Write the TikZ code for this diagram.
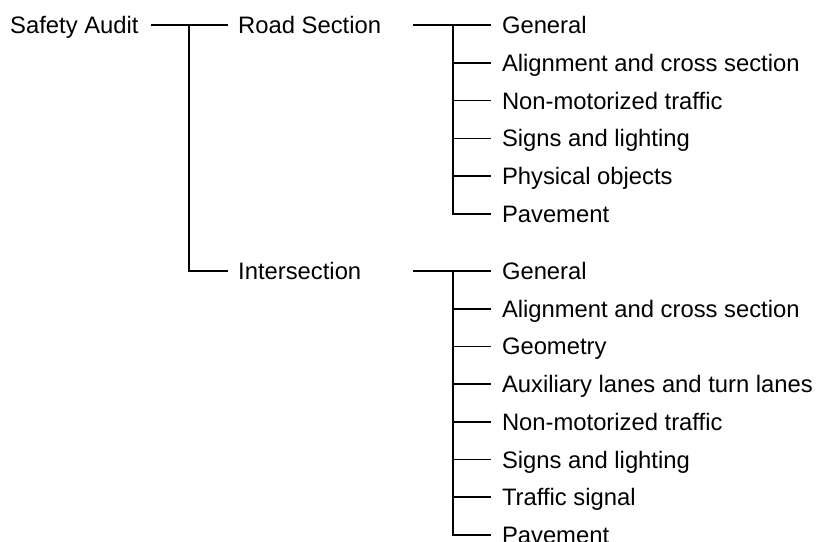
\documentclass[tikz,border=0pt]{standalone}
\usepackage{fontspec}
\setmainfont{Liberation Sans}
\begin{document}
\begin{tikzpicture}[x=1bp,y=-1bp,
  lbl/.style={anchor=west, inner sep=0pt, text height=17bp, text depth=0pt,
              font=\fontsize{23.8bp}{28bp}\selectfont},
  leaf/.style={lbl, outer xsep=11bp},
  thinline/.style={line width=1.7bp},
  thickline/.style={line width=2.7bp},
]
\useasboundingbox (0,0) rectangle (819,542);

% top level
\node[lbl] (root)  at (10,25)  {Safety Audit};
\node[lbl] (road)  at (238,25) {Road Section};
\node[lbl] (inter) at (238,271) {Intersection};
\coordinate (fork) at (189,25);
\draw[thinline] ([xshift=12bp]root.east) -- ([xshift=-10bp]road.west);
\draw[thinline] (fork) |- ([xshift=-10bp]inter.west);

% road section items
\foreach \t [count=\i] in {General, Alignment and cross section, Non-motorized traffic,
    Signs and lighting, Physical objects, Pavement}
  \node[leaf] (r\i) at (491,{25+37.8*(\i-1)}) {\t};
\coordinate (rIn)  at (413,25);
\coordinate (rHub) at (453,25);
\draw[thickline] (rIn) -- (rHub) -- (rHub |- r5.west);
\draw[thinline] (rHub |- r5.west) |- (r6.west);
\foreach \i in {1,...,5}
  \draw[thinline] (rHub |- r\i.west) -- (r\i.west);

% intersection items
\foreach \t [count=\i] in {General, Alignment and cross section, Geometry,
    Auxiliary lanes and turn lanes, Non-motorized traffic, Signs and lighting,
    Traffic signal, Pavement}
  \node[leaf] (n\i) at (491,{271+37.7*(\i-1)}) {\t};
\coordinate (nIn)  at (413,271);
\coordinate (nHub) at (453,271);
\draw[thickline] (nIn) -- (nHub) -- (nHub |- n7.west);
\draw[thinline] (nHub |- n7.west) |- (n8.west);
\foreach \i in {1,...,7}
  \draw[thinline] (nHub |- n\i.west) -- (n\i.west);
\end{tikzpicture}
\end{document}
